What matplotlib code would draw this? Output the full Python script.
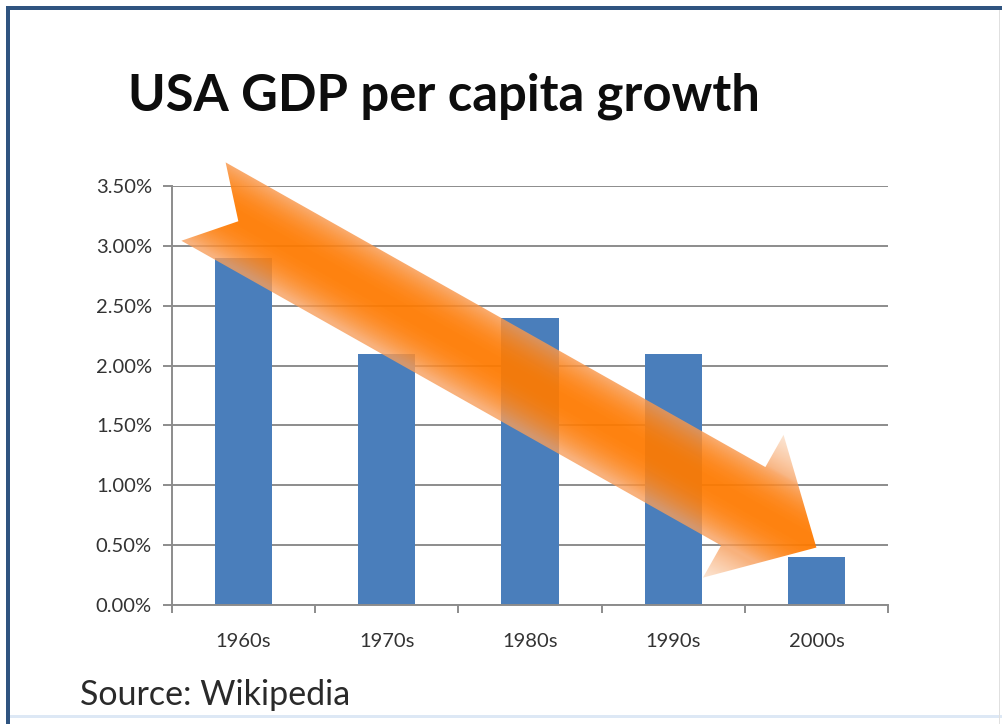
import numpy as np
import matplotlib
matplotlib.use("Agg")
import matplotlib.pyplot as plt
from matplotlib.patches import Polygon, Rectangle
from matplotlib.ticker import FixedLocator, FuncFormatter

# ---- data ----
decades = ["1960s", "1970s", "1980s", "1990s", "2000s"]
growth = [2.9, 2.1, 2.4, 2.1, 0.4]          # percent
yticks = [0.0, 0.5, 1.0, 1.5, 2.0, 2.5, 3.0, 3.5]
title = "USA GDP per capita growth"
source = "Source: Wikipedia"
# arrow annotation (data coords of main axes): tail centre -> tip
arrow_tail = (-0.28, 3.37)
arrow_tip = (4.0, 0.48)

W, H = 1002, 724
fig = plt.figure(figsize=(W / 100, H / 100), dpi=100)
fig.patch.set_facecolor("white")

FONT = "Lato"
grid_c = "#8c8c8c"
text_c = "#333333"
bar_c = "#4a7ebb"

ax = fig.add_axes([172 / W, (H - 605) / H, (888 - 172) / W, (605 - 186) / H])
x = np.arange(len(decades))
ax.bar(x, growth, width=0.4, color=bar_c, zorder=2)
ax.set_xlim(-0.5, len(decades) - 0.5)
ax.set_ylim(0, 3.5)
ax.set_yticks(yticks)
ax.yaxis.set_major_formatter(FuncFormatter(lambda v, p: f"{v:.2f}%"))
ax.grid(axis="y", color=grid_c, linewidth=1.4, zorder=0)
ax.set_axisbelow(True)
for s in ["top", "right"]:
    ax.spines[s].set_visible(False)
for s in ["left", "bottom"]:
    ax.spines[s].set_color(grid_c)
    ax.spines[s].set_linewidth(1.4)
ax.tick_params(axis="y", length=6.5, width=1.4, color=grid_c, pad=8,
               labelsize=14.5, labelcolor=text_c)
ax.xaxis.set_major_locator(FixedLocator(np.arange(-0.5, len(decades), 1.0)))
ax.xaxis.set_minor_locator(FixedLocator(x))
ax.xaxis.set_major_formatter(FuncFormatter(lambda v, p: ""))
ax.xaxis.set_minor_formatter(FuncFormatter(lambda v, p: decades[int(round(v))]))
ax.tick_params(axis="x", which="major", length=6, width=1.4, color=grid_c)
ax.tick_params(axis="x", which="minor", length=0, pad=20, labelsize=14.5,
               labelcolor=text_c)
for lab in ax.get_yticklabels() + ax.get_xticklabels(minor=True):
    lab.set_family(FONT)

# ---- overlay in pixel coords ----
ov = fig.add_axes([0, 0, 1, 1], zorder=5)
ov.set_xlim(0, W)
ov.set_ylim(H, 0)
ov.axis("off")
ov.patch.set_alpha(0)

fig.canvas.draw()
t_disp = ax.transData.transform(arrow_tail)
p_disp = ax.transData.transform(arrow_tip)
tail = np.array([t_disp[0], H - t_disp[1]])
tip = np.array([p_disp[0], H - p_disp[1]])
vec = tip - tail
L = np.hypot(*vec)
u = vec / L
nv = np.array([-u[1], u[0]])
hw, hh, headlen, notch = 45, 82, 84, 40

def pt(a, n):
    return tail + a * u + n * nv

poly_pts = [pt(0, -hw), pt(L - headlen, -hw), pt(L - headlen, -hh), pt(L, 0),
            pt(L - headlen, hh), pt(L - headlen, hw), pt(0, hw), pt(notch, 0)]
poly = Polygon(poly_pts, closed=True, facecolor="none", edgecolor="none")
ov.add_patch(poly)

yy, xx = np.mgrid[0:H, 0:W] + 0.5
dx, dy = xx - tail[0], yy - tail[1]
along = dx * u[0] + dy * u[1]
perp = dx * nv[0] + dy * nv[1]
t = (perp + 3) / hw
w = np.clip(1 - np.abs(t) ** 2.2, 0, 1)
head = np.clip((np.abs(perp) - hw) / (hh - hw), 0, 1)
dark = np.array([1.0, 0.48, 0.0])
light = np.array([0.97, 0.62, 0.36])
lighter = np.array([0.98, 0.80, 0.66])
col = light[None, None, :] + (dark - light)[None, None, :] * w[..., None]
col = col * (1 - head[..., None]) + lighter[None, None, :] * head[..., None]
alpha = 0.80 + 0.14 * w - 0.3 * head
img = np.dstack([col, alpha[..., None]])
im = ov.imshow(img, extent=(0, W, H, 0), interpolation="bilinear", zorder=3)
im.set_clip_path(poly)

# ---- texts ----
fig.text(128 / W, 1 - 111 / H, title, fontsize=36.5, fontweight="bold",
         family=FONT, color="#0d0d0d", ha="left", va="baseline")
fig.text(80 / W, 1 - 705 / H, source, fontsize=24.5, family=FONT,
         color="#2a2a2a", ha="left", va="baseline")

# ---- frame ----
ov.add_patch(Rectangle((6, 6), W, 4, facecolor="#2f5480", edgecolor="none", zorder=6))
ov.add_patch(Rectangle((6, 6), 4, H, facecolor="#2f5480", edgecolor="none", zorder=6))
ov.add_patch(Rectangle((10, 715), W, 3, facecolor="#dde8f5", edgecolor="none", zorder=6))
ov.add_patch(Rectangle((999, 10), 1.5, H, facecolor="#e0e0e0", edgecolor="none", zorder=6))

fig.savefig("out.png", dpi=100)
